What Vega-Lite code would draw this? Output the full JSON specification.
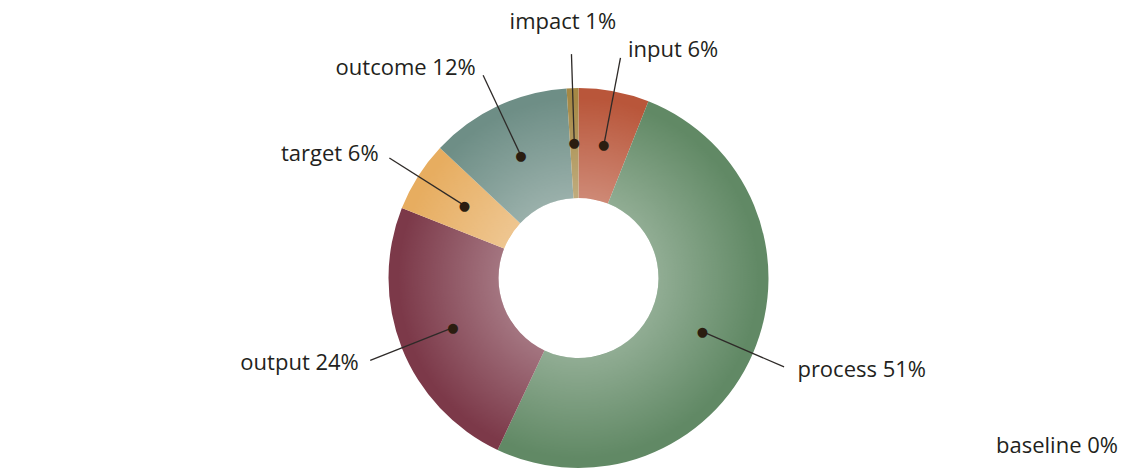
{
  "$schema": "https://vega.github.io/schema/vega-lite/v6.json",
  "width": 1085,
  "height": 356,
  "autosize": {"type": "none"},
  "padding": {"left": 36, "top": 100, "right": 0, "bottom": 18},
  "background": "white",
  "config": {"view": {"stroke": null}, "text": {"font": "Open Sans", "fontSize": 22, "color": "#231f20"}},
  "data": {
    "values": [
      {"category": "input", "value": 6, "rank": 1, "label": "input 6%"},
      {"category": "process", "value": 51, "rank": 2, "label": "process 51%"},
      {"category": "baseline", "value": 0, "rank": 3, "label": "baseline 0%"},
      {"category": "output", "value": 24, "rank": 4, "label": "output 24%"},
      {"category": "target", "value": 6, "rank": 5, "label": "target 6%"},
      {"category": "outcome", "value": 12, "rank": 6, "label": "outcome 12%"},
      {"category": "impact", "value": 1, "rank": 7, "label": "impact 1%"}
    ]
  },
  "layer": [
    {
      "mark": {"type": "arc", "innerRadius": 80, "outerRadius": 190},
      "encoding": {
        "theta": {"field": "value", "type": "quantitative", "stack": true},
        "order": {"field": "rank", "type": "quantitative"},
        "color": {
          "field": "category",
          "type": "nominal",
          "legend": null,
          "scale": {
            "domain": ["input", "process", "baseline", "output", "target", "outcome", "impact"],
            "range": ["#b9563a", "#618965", "#888888", "#7c3949", "#e7ad60", "#6e8e86", "#a58845"]
          }
        }
      }
    },
    {
      "data": {"values": [{"k": 1}]},
      "mark": {
        "type": "arc",
        "innerRadius": 80,
        "outerRadius": 190,
        "theta": 0,
        "theta2": 6.2832,
        "fill": {
          "gradient": "radial",
          "x1": 0.5, "y1": 0.5, "r1": 0,
          "x2": 0.5, "y2": 0.5, "r2": 0.5,
          "stops": [
            {"offset": 0, "color": "rgba(255,255,255,0.3)"},
            {"offset": 0.42, "color": "rgba(255,255,255,0.3)"},
            {"offset": 0.95, "color": "rgba(255,255,255,0)"},
            {"offset": 1, "color": "rgba(255,255,255,0)"}
          ]
        }
      },
      "encoding": {}
    },
    {
      "transform": [
        {"stack": "value", "groupby": [], "sort": [{"field": "rank", "order": "ascending"}], "as": ["s0", "s1"]},
        {"filter": "datum.value > 0"}
      ],
      "mark": {"type": "rule", "stroke": "#2e2a28", "strokeWidth": 1.3},
      "encoding": {
        "x": {"value": {"expr": "width/2 + 135*sin(scale('theta', (datum.s0+datum.s1)/2))"}},
        "y": {"value": {"expr": "height/2 - 135*cos(scale('theta', (datum.s0+datum.s1)/2))"}},
        "x2": {"value": {"expr": "width/2 + 224*sin(scale('theta', (datum.s0+datum.s1)/2))"}},
        "y2": {"value": {"expr": "height/2 - 224*cos(scale('theta', (datum.s0+datum.s1)/2))"}}
      }
    },
    {
      "mark": {"type": "text", "radius": 135, "font": "DejaVu Sans", "fontSize": 13, "color": "#2b1d10", "align": "center", "baseline": "middle"},
      "encoding": {
        "theta": {"field": "value", "type": "quantitative", "stack": true},
        "order": {"field": "rank", "type": "quantitative"},
        "text": {"condition": {"test": "datum.value > 0", "value": "●"}, "value": ""}
      }
    },
    {
      "mark": {"type": "text", "radius": 232, "align": "left", "baseline": "middle", "dx": 6},
      "encoding": {
        "theta": {"field": "value", "type": "quantitative", "stack": true},
        "order": {"field": "rank", "type": "quantitative"},
        "text": {"condition": {"test": "indexof(['input','process'], datum.category) >= 0", "field": "label", "type": "nominal"}, "value": ""}
      }
    },
    {
      "mark": {"type": "text", "radius": 232, "align": "right", "baseline": "middle", "dx": -4},
      "encoding": {
        "theta": {"field": "value", "type": "quantitative", "stack": true},
        "order": {"field": "rank", "type": "quantitative"},
        "text": {"condition": {"test": "indexof(['output','target','outcome'], datum.category) >= 0", "field": "label", "type": "nominal"}, "value": ""}
      }
    },
    {
      "mark": {"type": "text", "radius": 244, "align": "center", "baseline": "bottom", "dx": -8},
      "encoding": {
        "theta": {"field": "value", "type": "quantitative", "stack": true},
        "order": {"field": "rank", "type": "quantitative"},
        "text": {"condition": {"test": "datum.category === 'impact'", "field": "label", "type": "nominal"}, "value": ""}
      }
    },
    {
      "mark": {"type": "text", "x": "width", "y": "height", "align": "right", "baseline": "alphabetic", "dx": -3, "dy": -3},
      "encoding": {
        "text": {"condition": {"test": "datum.category === 'baseline'", "field": "label", "type": "nominal"}, "value": ""}
      }
    }
  ]
}
